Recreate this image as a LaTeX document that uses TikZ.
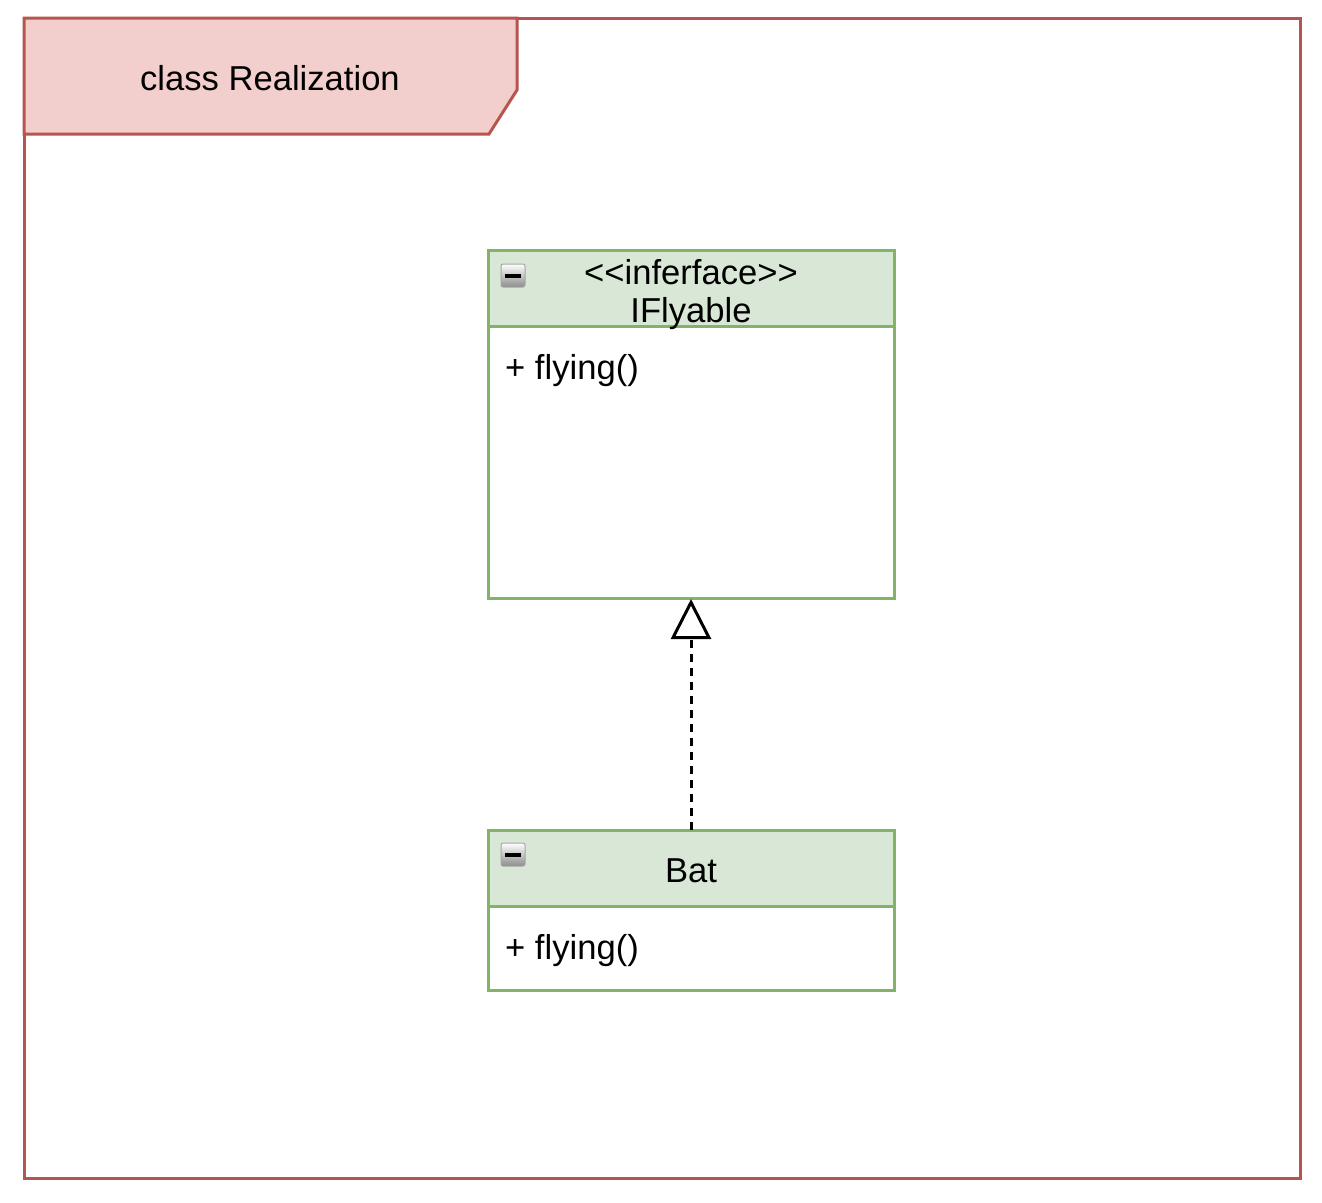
\documentclass[tikz,border=0pt]{standalone}
\usepackage{fontspec}
\setmainfont{Liberation Sans}
\usetikzlibrary{arrows.meta}
\definecolor{frameStroke}{HTML}{B85450}
\definecolor{frameFill}{HTML}{F2CFCC}
\definecolor{clsStroke}{HTML}{82B366}
\definecolor{clsFill}{HTML}{D9E7D6}
\tikzset{
  txt/.style={font=\fontsize{34.6}{40}\selectfont, inner sep=0pt},
  clsbox/.style={draw=clsStroke, line width=3pt, fill=white},
  clshead/.style={draw=clsStroke, line width=3pt, fill=clsFill},
}
\newcommand{\minusicon}[2]{%
  \shade[top color=white, bottom color=black!45, draw=black!35, line width=1pt, rounded corners=2pt] (#1,#2) rectangle ++(24,23);
  \fill[black] (#1+4,#2+9.5) rectangle ++(16,4);
}
\begin{document}
\begin{tikzpicture}[x=1pt,y=-1pt]
\useasboundingbox (0,0) rectangle (1322,1202);
% frame
\draw[frameStroke, line width=3pt] (24,18) rectangle (1300,1178);
\draw[frameStroke, line width=3pt, fill=frameFill] (24,18) -- (517,18) -- (517,90) -- (489,134) -- (24,134) -- cycle;
\node[txt] (title) at (270,78) {class Realization};
% IFlyable
\draw[clsbox] (488,250) rectangle (894,598);
\draw[clshead] (488,250) rectangle (894,326);
\coordinate (ifbottom) at (691,599);
\node[txt] (stereo) at (691,272) {<\kern0pt<inferface>\kern0pt>};
\node[txt] (ifname) at (691,314) {IFlyable};
\node[txt, anchor=west] (ifop) at (505,371) {+ flying()};
\minusicon{501}{264}
% Bat
\draw[clsbox] (488,830) rectangle (894,990);
\draw[clshead] (488,830) rectangle (894,906);
\coordinate (battop) at (691,830);
\node[txt] (batname) at (691,871) {Bat};
\node[txt, anchor=west] (batop) at (505,951) {+ flying()};
\minusicon{501}{843}
% realization
\draw[line width=3pt, dash pattern=on 8pt off 6pt, -{Triangle[open, length=40pt, width=40pt, line width=3pt]}] (battop) -- (ifbottom);
\end{tikzpicture}
\end{document}
